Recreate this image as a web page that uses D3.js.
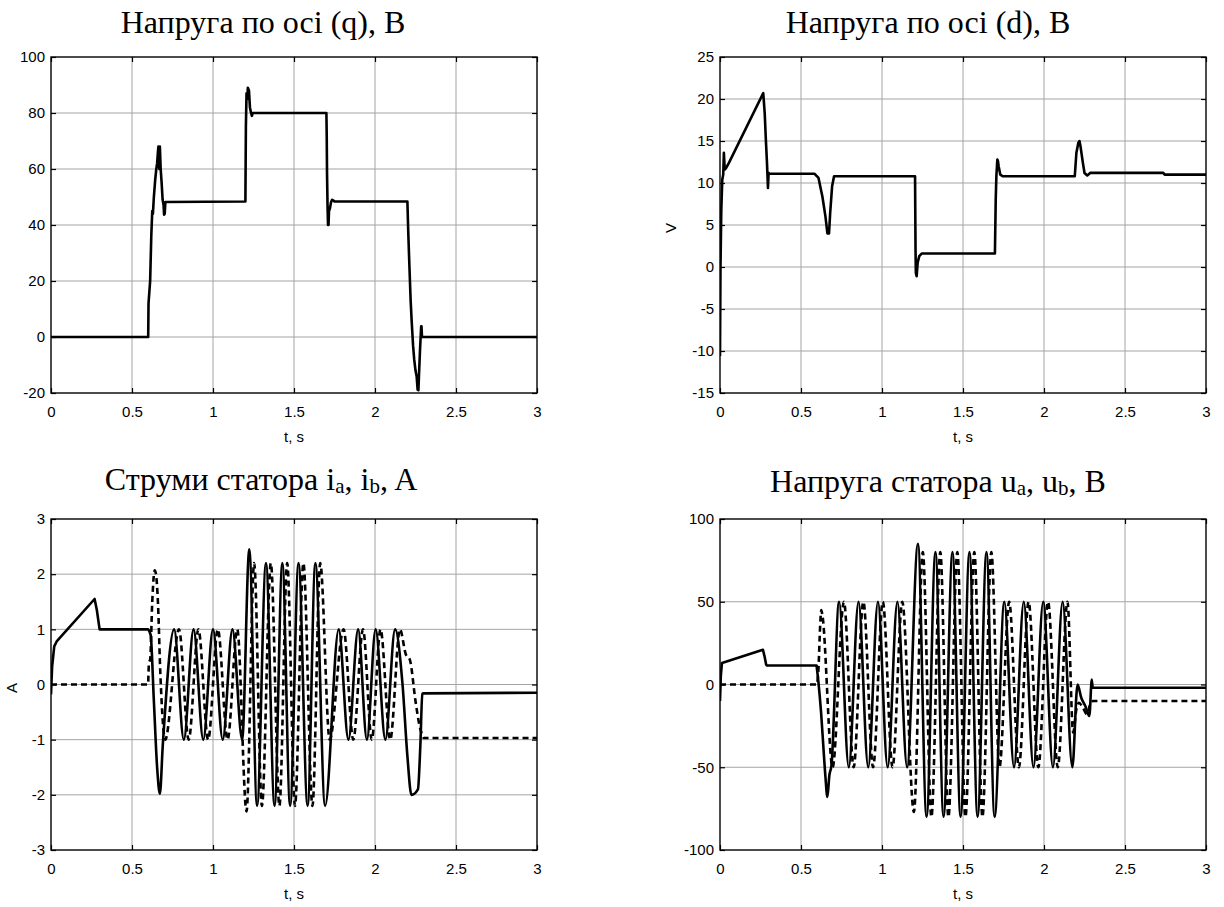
<!DOCTYPE html>
<html><head><meta charset="utf-8">
<script src="https://cdn.jsdelivr.net/npm/d3@7"></script>
<style>body{margin:0;background:#fff} svg{display:block}</style>
</head><body><svg id="c" width="1224" height="907"></svg>
<script>
// ---------- data ----------
const timeTicks = [0, 0.5, 1, 1.5, 2, 2.5, 3];
const qTicks = [-20, 0, 20, 40, 60, 80, 100];
const dTicks = [-15, -10, -5, 0, 5, 10, 15, 20, 25];
const iTicks = [-3, -2, -1, 0, 1, 2, 3];
const uTicks = [-100, -50, 0, 50, 100];

// Напруга по осі (q)  [t, V]
const qVoltage = [[0,0],[0.6,0],[0.602,12],[0.612,20],[0.619,36],[0.625,45],[0.629,44],[0.635,50],[0.643,56],[0.65,60],[0.655,62],[0.66,66],[0.663,68],[0.668,60],[0.672,68],[0.677,60],[0.683,55],[0.689,49],[0.695,47],[0.698,43.7],[0.702,44],[0.706,48.2],[1.2,48.4],[1.203,75],[1.207,87],[1.212,85],[1.215,89],[1.222,88],[1.228,82],[1.235,80],[1.24,79],[1.245,80],[1.7,80],[1.702,72],[1.704,58],[1.707,47],[1.71,40],[1.713,40],[1.716,45],[1.722,46],[1.728,48],[1.735,49],[1.745,48.7],[1.75,48.4],[2.2,48.4],[2.205,38],[2.212,26],[2.22,13],[2.227,5],[2.235,-3],[2.242,-8],[2.25,-12],[2.257,-14],[2.263,-18.8],[2.268,-19],[2.272,-13],[2.278,-4.5],[2.285,3.8],[2.287,3.8],[2.29,0],[3,0]];

// Напруга по осі (d)  [t, V]
const dVoltage = [[0,-10.6],[0.003,0],[0.008,6.8],[0.014,10.4],[0.02,11],[0.024,13.6],[0.029,11.6],[0.038,11.8],[0.055,12.4],[0.267,20.7],[0.276,18.3],[0.283,15.2],[0.29,12.4],[0.296,9.4],[0.3,11.2],[0.305,11.1],[0.584,11.1],[0.608,10.6],[0.632,8.4],[0.651,6.0],[0.663,4.0],[0.673,4.0],[0.68,6.4],[0.692,9.6],[0.704,10.8],[1.204,10.8],[1.207,2],[1.209,-0.7],[1.214,-1.1],[1.22,0.5],[1.23,1.3],[1.245,1.6],[1.697,1.6],[1.702,8.0],[1.706,10.8],[1.712,12.8],[1.716,12.6],[1.72,12.0],[1.73,11.0],[1.745,10.8],[2.19,10.8],[2.2,13.6],[2.212,14.8],[2.219,15.0],[2.225,14.4],[2.24,12.4],[2.25,11.2],[2.267,10.9],[2.285,11.2],[2.736,11.2],[2.745,11.0],[3,11.0]];

// Струми статора ia (solid), ib (dashed)  [t, A]
const currentA = [[0,-0.18],[0.007,0.33],[0.02,0.69],[0.035,0.78],[0.269,1.55],[0.283,1.35],[0.3,1.0],[0.6,1.0],[0.615,0.9],[0.635,-0.3],[0.655,-1.5],[0.672,-1.98],[0.69,-1.1],[0.76,1.0],[0.82,-1.0],[0.88,1.0],[0.94,-1.0],[1.0,1.0],[1.06,-1.0],[1.12,1.0],[1.18,-1.0],[1.224,2.45],[1.272,-2.2],[1.327,2.2],[1.38,-2.2],[1.428,2.2],[1.476,-2.2],[1.528,2.2],[1.584,-2.2],[1.632,2.2],[1.692,-2.2],[1.776,1.0],[1.836,-1.0],[1.896,1.0],[1.95,-1.0],[2.004,1.0],[2.064,-1.0],[2.124,1.0],[2.17,0.0],[2.2,-1.3],[2.225,-2.0],[2.265,-1.9],[2.28,-1.1],[2.292,-0.17],[2.3,-0.16],[3,-0.15]];
const currentB = [[0,0],[0.6,0],[0.605,0.4],[0.612,0.45],[0.625,1.5],[0.64,2.07],[0.648,2.0],[0.66,1.5],[0.675,0.2],[0.705,-1.0],[0.79,1.0],[0.85,-1.0],[0.91,1.0],[0.97,-1.0],[1.03,1.0],[1.09,-1.0],[1.15,1.0],[1.207,-2.3],[1.254,2.2],[1.302,-2.2],[1.357,2.2],[1.41,-2.2],[1.458,2.2],[1.506,-2.2],[1.558,2.2],[1.614,-2.2],[1.662,2.2],[1.72,-1.0],[1.806,1.0],[1.866,-1.0],[1.926,1.0],[1.98,-1.0],[2.034,1.0],[2.094,-1.0],[2.154,1.0],[2.19,0.55],[2.215,0.45],[2.25,-0.3],[2.275,-0.75],[2.3,-0.97],[3,-0.97]];

// Напруга статора ua (solid), ub (dashed)  [t, V]
const voltageA = [[0,-10],[0.005,5],[0.012,13],[0.265,21],[0.275,17],[0.285,12],[0.29,11.5],[0.596,11.5],[0.608,1],[0.624,-17],[0.639,-39],[0.651,-56],[0.663,-68],[0.675,-55],[0.688,-49],[0.735,50],[0.795,-50],[0.855,50],[0.915,-50],[0.975,50],[1.035,-50],[1.095,50],[1.155,-50],[1.222,85],[1.275,-80],[1.33,80],[1.38,-80],[1.435,80],[1.485,-80],[1.54,80],[1.59,-80],[1.645,80],[1.695,-80],[1.755,50],[1.815,-50],[1.875,50],[1.935,-50],[1.995,50],[2.055,-50],[2.115,50],[2.175,-50],[2.207,0],[2.23,-8],[2.255,-13],[2.28,-19],[2.295,3],[2.3,-2],[3,-2]];
const voltageB = [[0,0],[0.6,0],[0.608,10],[0.618,35],[0.625,45],[0.632,42],[0.695,-50],[0.765,50],[0.825,-50],[0.885,50],[0.945,-50],[1.005,50],[1.065,-50],[1.125,50],[1.197,-77],[1.252,80],[1.305,-80],[1.36,80],[1.41,-80],[1.465,80],[1.515,-80],[1.57,80],[1.62,-80],[1.675,80],[1.725,-50],[1.785,50],[1.845,-50],[1.905,50],[1.965,-50],[2.025,50],[2.085,-50],[2.145,50],[2.18,-29],[2.2,-15],[2.215,-11],[2.24,-14],[2.265,-18],[2.285,-12],[2.3,-10],[3,-10]];

// time window in which the oscillating series are drawn as smooth curves
const oscWindow = [0.6, 2.3];

// ---------- drawing ----------
const svg = d3.select('#c');
const fmt = d => String(d);
let clipId = 0;

function pathFor(data, x, y, smoothRange) {
  const lin = d3.line().x(d => x(d[0])).y(d => y(d[1])).curve(d3.curveLinear);
  if (!smoothRange) return lin(data);
  const sm = d3.line().x(d => x(d[0])).y(d => y(d[1])).curve(d3.curveMonotoneX);
  const [a, b] = smoothRange;
  let iA = 0;
  data.forEach((d, i) => { if (d[0] <= a) iA = i; });
  let iB = data.findIndex(d => d[0] >= b);
  if (iB < 0) iB = data.length - 1;
  const before = data.slice(0, iA + 1);
  const mid = data.slice(iA, iB + 1);
  const after = data.slice(iB);
  let p = lin(before);
  if (mid.length > 1) p += sm(mid).replace(/^M/, 'L');
  if (after.length > 1) p += lin(after).replace(/^M/, 'L');
  return p;
}

function panel(cfg) {
  const x = d3.scaleLinear().domain([0, 3]).range([cfg.left, cfg.right]);
  const y = d3.scaleLinear().domain([cfg.yTicks[0], cfg.yTicks[cfg.yTicks.length - 1]]).range([cfg.bottom, cfg.top]);
  const g = svg.append('g');

  // grid
  g.append('g').selectAll('line').data(timeTicks.slice(1, -1)).join('line')
    .attr('x1', d => x(d)).attr('x2', d => x(d)).attr('y1', cfg.top).attr('y2', cfg.bottom)
    .attr('stroke', '#a4a4a4').attr('stroke-width', 1);
  g.append('g').selectAll('line').data(cfg.yTicks.slice(1, -1)).join('line')
    .attr('y1', d => y(d)).attr('y2', d => y(d)).attr('x1', cfg.left).attr('x2', cfg.right)
    .attr('stroke', '#a4a4a4').attr('stroke-width', 1);

  // clip
  const id = 'clip' + (clipId++);
  svg.append('clipPath').attr('id', id).append('rect')
    .attr('x', cfg.left).attr('y', cfg.top - 1).attr('width', cfg.right - cfg.left).attr('height', cfg.bottom - cfg.top + 2);

  cfg.series.forEach(s => {
    g.append('path').attr('d', pathFor(s.data, x, y, s.smooth ? oscWindow : null)).attr('clip-path', `url(#${id})`)
      .attr('fill', 'none').attr('stroke', '#000').attr('stroke-width', 2.6)
      .attr('stroke-linejoin', 'round')
      .attr('stroke-dasharray', s.dashed ? '6,4' : null);
  });

  // frame
  g.append('rect').attr('x', cfg.left).attr('y', cfg.top).attr('width', cfg.right - cfg.left).attr('height', cfg.bottom - cfg.top)
    .attr('fill', 'none').attr('stroke', '#000').attr('stroke-width', 1.4);

  const style = sel => {
    sel.select('.domain').remove();
    sel.selectAll('.tick line').attr('stroke', '#000').attr('stroke-width', 1.2);
    sel.selectAll('.tick text').attr('font-family', 'Liberation Sans, Arial, sans-serif').attr('font-size', 15).attr('fill', '#000');
  };
  g.append('g').attr('transform', `translate(0,${cfg.bottom})`)
    .call(d3.axisBottom(x).tickValues(timeTicks).tickFormat(fmt).tickSize(-5).tickPadding(13)).call(style);
  g.append('g').attr('transform', `translate(0,${cfg.top})`)
    .call(d3.axisTop(x).tickValues(timeTicks).tickFormat('').tickSize(-5)).call(style);
  g.append('g').attr('transform', `translate(${cfg.left},0)`)
    .call(d3.axisLeft(y).tickValues(cfg.yTicks).tickFormat(fmt).tickSize(-5).tickPadding(6)).call(style);
  g.append('g').attr('transform', `translate(${cfg.right},0)`)
    .call(d3.axisRight(y).tickValues(cfg.yTicks).tickFormat('').tickSize(-5)).call(style);

  // x label
  g.append('text').attr('x', (cfg.left + cfg.right) / 2).attr('y', cfg.bottom + 49)
    .attr('text-anchor', 'middle').attr('font-family', 'Liberation Sans, Arial, sans-serif').attr('font-size', 15).text('t, s');

  // y label
  if (cfg.yLabel) {
    g.append('text').attr('transform', `translate(${cfg.yLabel.x},${cfg.yLabel.y}) rotate(-90)`)
      .attr('text-anchor', 'middle').attr('font-family', 'Liberation Sans, Arial, sans-serif').attr('font-size', 15).text(cfg.yLabel.text);
  }

  // title
  const t = svg.append('text').attr('x', cfg.titleX).attr('y', cfg.titleY).attr('text-anchor', 'middle')
    .attr('font-family', 'Liberation Serif, Times New Roman, serif').attr('font-size', 32).attr('fill', '#000');
  cfg.title.forEach(p => {
    const ts = t.append('tspan').text(p.text);
    if (p.sub) ts.attr('font-size', 21).attr('dy', 3);
    if (p.up) ts.attr('dy', -3);
  });
}

panel({ left: 51, right: 537, top: 57, bottom: 393, yTicks: qTicks,
  series: [{ data: qVoltage }],
  titleX: 263, titleY: 33, title: [{ text: 'Напруга по осі (q), В' }] });

panel({ left: 720, right: 1206, top: 57, bottom: 393, yTicks: dTicks,
  series: [{ data: dVoltage }], yLabel: { x: 676, y: 228, text: 'V' },
  titleX: 928, titleY: 33, title: [{ text: 'Напруга по осі (d), В' }] });

panel({ left: 51, right: 537, top: 519, bottom: 850, yTicks: iTicks,
  series: [{ data: currentA, smooth: true }, { data: currentB, smooth: true, dashed: true }],
  yLabel: { x: 17, y: 688, text: 'A' },
  titleX: 261, titleY: 490,
  title: [{ text: 'Струми статора i' }, { text: 'a', sub: true }, { text: ', i', up: true }, { text: 'b', sub: true }, { text: ', A', up: true }] });

panel({ left: 720, right: 1206, top: 519, bottom: 850, yTicks: uTicks,
  series: [{ data: voltageA, smooth: true }, { data: voltageB, smooth: true, dashed: true }],
  titleX: 938, titleY: 492,
  title: [{ text: 'Напруга статора u' }, { text: 'a', sub: true }, { text: ', u', up: true }, { text: 'b', sub: true }, { text: ', В', up: true }] });
</script></body></html>
